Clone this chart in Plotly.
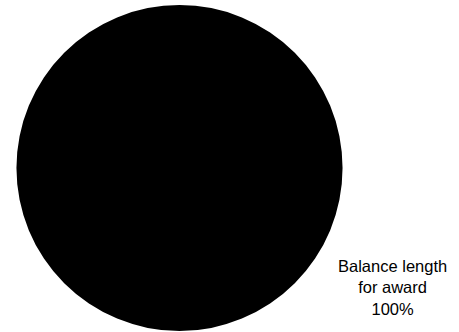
import plotly.graph_objects as go

# Award breakdown: a single category covering the whole award
labels = ["Balance length<br>for award"]
values = [100]
colors = ["#000000"]

total = sum(values)
shares = [v / total * 100 for v in values]

fig = go.Figure(
    go.Pie(
        labels=labels,
        values=values,
        marker=dict(colors=colors, line=dict(width=0)),
        textinfo="none",
        rotation=0,
        direction="clockwise",
        sort=False,
        showlegend=False,
        hoverinfo="label+percent",
        domain=dict(x=[16.5 / 459, 342.5 / 459], y=[1 / 332, 327 / 332]),
    )
)

# Category label with its share, set outside the pie at the lower right
for lab, pct in zip(labels, shares):
    fig.add_annotation(
        text=f"{lab}<br>{pct:.0f}%",
        xref="paper",
        yref="paper",
        x=392 / 459,
        y=1 - 287 / 332,
        xanchor="center",
        yanchor="middle",
        align="center",
        showarrow=False,
        font=dict(family="Liberation Sans, Arial, sans-serif", size=16.5, color="#000000"),
    )

fig.update_layout(
    width=459,
    height=332,
    margin=dict(l=0, r=0, t=0, b=0),
    paper_bgcolor="#ffffff",
    plot_bgcolor="#ffffff",
)

fig.write_html("out.html")
